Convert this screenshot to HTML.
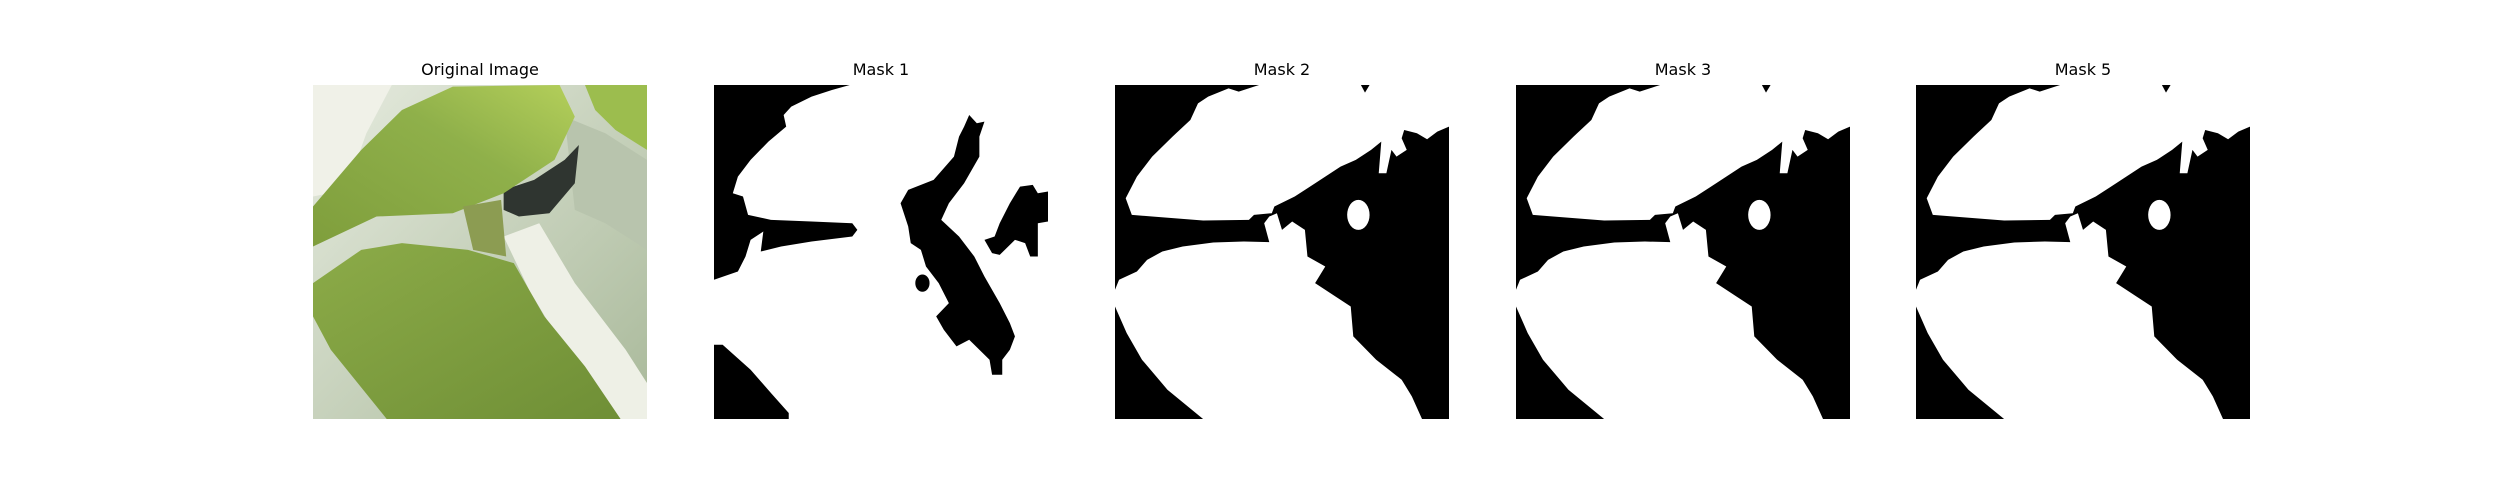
<!DOCTYPE html>
<html><head><meta charset="utf-8"><style>
html,body{margin:0;padding:0;background:#fff;}
body{width:2500px;height:500px;position:relative;overflow:hidden;font-family:"Liberation Sans","DejaVu Sans",sans-serif;}
.ttl{position:absolute;width:334px;text-align:center;font-family:"DejaVu Sans","Liberation Sans",sans-serif;font-size:16px;color:#000;top:60px;}
svg.p{position:absolute;top:85px;width:334px;height:334px;}
</style></head><body>
<div class="ttl" style="left:313px">Original Image</div>
<div class="ttl" style="left:714px">Mask 1</div>
<div class="ttl" style="left:1115px">Mask 2</div>
<div class="ttl" style="left:1516px">Mask 3</div>
<div class="ttl" style="left:1916px">Mask 5</div>

<svg class="p" style="left:313px" viewBox="25 105 657 1003" preserveAspectRatio="none">
<defs>
<linearGradient id="bg" x1="0" y1="0" x2="1" y2="1"><stop offset="0" stop-color="#e6ebdf"/><stop offset="1" stop-color="#a9b99a"/></linearGradient>
<linearGradient id="lf1" x1="0" y1="1" x2="1" y2="0"><stop offset="0" stop-color="#7f9e3c"/><stop offset="0.6" stop-color="#8fb04a"/><stop offset="1" stop-color="#b4cf5a"/></linearGradient>
<linearGradient id="lf2" x1="0" y1="0" x2="1" y2="1"><stop offset="0" stop-color="#8cab48"/><stop offset="1" stop-color="#6f8f36"/></linearGradient>
</defs>
<rect x="25" y="105" width="657" height="1003" fill="url(#bg)"/>
<path d="M25,105 L180,105 L130,250 L90,420 L25,440 Z" fill="#f0f1e8"/>
<path d="M400,560 L470,520 L540,700 L640,900 L682,1000 L682,1108 L600,1108 L520,900 L450,720 Z" fill="#eef0e6"/>
<path d="M520,200 L600,250 L682,330 L682,600 L600,520 L540,480 Z" fill="#b8c4ad"/>
<path d="M400,420 L460,390 L520,330 L548,285 L540,400 L490,490 L430,500 L400,480 Z" fill="#2f3530"/>
<path d="M25,470 L120,300 L200,180 L300,110 L510,105 L540,200 L500,330 L400,430 L300,490 L150,500 L25,590 Z" fill="url(#lf1)"/>
<path d="M560,105 L682,105 L682,300 L620,240 L580,180 Z" fill="#9cbd4e"/>
<path d="M320,470 L395,450 L405,620 L340,600 Z" fill="#8c9c52"/>
<path d="M25,700 L120,600 L200,580 L330,600 L420,640 L450,720 L480,800 L560,950 L630,1108 L170,1108 L60,900 L25,800 Z" fill="url(#lf2)"/>
</svg>

<svg class="p" style="left:714px" viewBox="808 105 657 1003" preserveAspectRatio="none">
<rect x="808" y="105" width="657" height="1003" fill="#fff"/>
<path d="M808,105 L1075,105 L1040,120 L1000,140 L960,170 L945,195 L950,230 L915,275 L880,330 L855,380 L845,430 L865,440 L875,495 L920,510 L1000,515 L1080,520 L1090,540 L1080,560 L1000,575 L940,590 L900,605 L905,545 L880,570 L870,620 L855,665 L808,690 Z" fill="#000"/>
<path d="M808,885 L825,885 L880,960 L920,1030 L955,1090 L955,1108 L808,1108 Z" fill="#000"/>
<path d="M1310,195 L1325,220 L1340,215 L1330,260 L1330,320 L1300,400 L1270,460 L1255,510 L1290,560 L1320,620 L1340,680 L1370,760 L1390,820 L1400,860 L1390,900 L1375,930 L1375,975 L1355,975 L1350,930 L1330,900 L1310,870 L1285,890 L1260,840 L1245,800 L1270,760 L1250,700 L1225,650 L1215,600 L1195,580 L1190,530 L1175,460 L1190,420 L1240,390 L1280,320 L1290,260 L1300,230 Z" fill="#000"/>
<ellipse cx="1218" cy="700" rx="14" ry="26" fill="#000"/>
<path d="M1410,410 L1435,405 L1445,430 L1465,425 L1465,515 L1445,520 L1445,620 L1430,620 L1420,580 L1400,570 L1370,615 L1355,610 L1340,570 L1360,560 L1370,520 L1390,460 Z" fill="#000"/>
</svg>

<svg class="p" style="left:1115px" viewBox="27 105 656 1003" preserveAspectRatio="none">
<rect x="27" y="105" width="656" height="1003" fill="#000"/>
<path d="M310,105 L510,105 L518,128 L527,105 L683,105 L683,230 L660,245 L640,268 L620,250 L595,240 L590,265 L600,300 L580,320 L570,300 L560,370 L545,370 L550,275 L530,300 L500,330 L470,350 L440,380 L410,410 L380,440 L340,470 L335,490 L300,495 L290,510 L200,512 L100,500 L60,495 L48,445 L70,380 L100,320 L140,260 L175,210 L190,160 L210,140 L250,115 L270,125 L300,110 Z" fill="#fff"/>
<path d="M27,720 L35,690 L70,665 L90,630 L120,605 L160,590 L220,578 L280,575 L330,577 L320,520 L330,500 L345,490 L355,540 L375,515 L400,540 L405,620 L440,650 L420,700 L460,740 L490,770 L495,860 L540,930 L590,990 L610,1040 L630,1108 L200,1108 L130,1020 L80,930 L50,850 L27,770 Z" fill="#fff"/>
<ellipse cx="505" cy="495" rx="22" ry="45" fill="#fff"/>
</svg>

<svg class="p" style="left:1516px" viewBox="27 105 656 1003" preserveAspectRatio="none">
<rect x="27" y="105" width="656" height="1003" fill="#000"/>
<path d="M310,105 L510,105 L518,128 L527,105 L683,105 L683,230 L660,245 L640,268 L620,250 L595,240 L590,265 L600,300 L580,320 L570,300 L560,370 L545,370 L550,275 L530,300 L500,330 L470,350 L440,380 L410,410 L380,440 L340,470 L335,490 L300,495 L290,510 L200,512 L100,500 L60,495 L48,445 L70,380 L100,320 L140,260 L175,210 L190,160 L210,140 L250,115 L270,125 L300,110 Z" fill="#fff"/>
<path d="M27,720 L35,690 L70,665 L90,630 L120,605 L160,590 L220,578 L280,575 L330,577 L320,520 L330,500 L345,490 L355,540 L375,515 L400,540 L405,620 L440,650 L420,700 L460,740 L490,770 L495,860 L540,930 L590,990 L610,1040 L630,1108 L200,1108 L130,1020 L80,930 L50,850 L27,770 Z" fill="#fff"/>
<ellipse cx="505" cy="495" rx="22" ry="45" fill="#fff"/>
</svg>

<svg class="p" style="left:1916px" viewBox="27 105 656 1003" preserveAspectRatio="none">
<rect x="27" y="105" width="656" height="1003" fill="#000"/>
<path d="M310,105 L510,105 L518,128 L527,105 L683,105 L683,230 L660,245 L640,268 L620,250 L595,240 L590,265 L600,300 L580,320 L570,300 L560,370 L545,370 L550,275 L530,300 L500,330 L470,350 L440,380 L410,410 L380,440 L340,470 L335,490 L300,495 L290,510 L200,512 L100,500 L60,495 L48,445 L70,380 L100,320 L140,260 L175,210 L190,160 L210,140 L250,115 L270,125 L300,110 Z" fill="#fff"/>
<path d="M27,720 L35,690 L70,665 L90,630 L120,605 L160,590 L220,578 L280,575 L330,577 L320,520 L330,500 L345,490 L355,540 L375,515 L400,540 L405,620 L440,650 L420,700 L460,740 L490,770 L495,860 L540,930 L590,990 L610,1040 L630,1108 L200,1108 L130,1020 L80,930 L50,850 L27,770 Z" fill="#fff"/>
<ellipse cx="505" cy="495" rx="22" ry="45" fill="#fff"/>
</svg>
</body></html>
